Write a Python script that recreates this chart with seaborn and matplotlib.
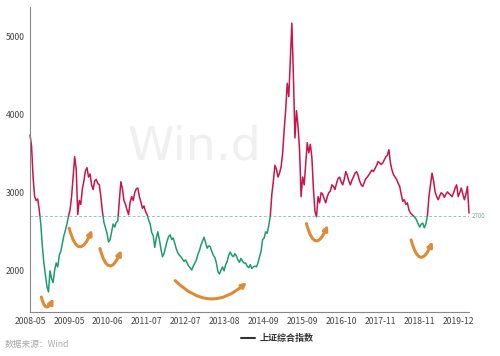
import matplotlib
matplotlib.use("Agg")
import matplotlib.pyplot as plt
from matplotlib.patches import Rectangle, FancyArrowPatch
from matplotlib.lines import Line2D
import seaborn as sns
import numpy as np
import pandas as pd

#%% data (half-month steps, 2008-05 .. 2020-03)

sse_2008_2009 = [3740, 3600, 3200, 2950, 2900, 2920, 2780, 2600, 2320, 2100,
                 1950, 1800, 1730, 2000, 1900, 1850, 2010, 2100, 2050, 2200,
                 2250, 2350, 2450, 2520, 2600, 2700, 2780, 2950, 3200, 3460,
                 3300, 2720, 2900, 2850, 3050, 3150, 3280, 3320, 3200, 3240,
                 3100, 3040, 3150, 3170, 3120, 3100, 2950, 2760, 2620, 2550]
sse_2010_2011 = [2480, 2370, 2400, 2500, 2600, 2560, 2620, 2640, 2900, 3140,
                 3050, 2900, 2850, 2780, 2720, 2880, 2950, 2900, 3000, 3050,
                 3060, 2950, 2880, 2800, 2830, 2760, 2720, 2650, 2600, 2490,
                 2450, 2300, 2420, 2500, 2400, 2280, 2180, 2220, 2300, 2380]
sse_2012_2013 = [2440, 2460, 2400, 2420, 2350, 2280, 2230, 2200, 2180, 2150,
                 2120, 2140, 2100, 2060, 2040, 2010, 2060, 2100, 2140, 2210,
                 2260, 2330, 2380, 2430, 2360, 2290, 2320, 2310, 2250, 2200,
                 2170, 2100, 1990, 1960, 2010, 2050, 2000, 2080, 2120, 2200,
                 2240, 2200, 2180, 2220, 2190, 2140, 2110, 2160, 2120, 2100]
sse_2014_2015 = [2100, 2060, 2040, 2080, 2030, 2050, 2060, 2050, 2100, 2180,
                 2250, 2400, 2420, 2500, 2480, 2580, 2700, 2980, 3150, 3350,
                 3300, 3200, 3250, 3330, 3500, 3800, 4060, 4400, 4230, 4700,
                 5170, 4500, 3700, 4050, 3850, 3550, 2950, 3200, 3100, 3380,
                 3640, 3510, 3620, 3450, 3050, 2760, 2690, 2950, 2870, 3000]
sse_2016_2017 = [2980, 2920, 2870, 2950, 3000, 3020, 3100, 3080, 3040, 3120,
                 3180, 3200, 3140, 3100, 3170, 3270, 3220, 3150, 3100, 3160,
                 3200, 3250, 3270, 3220, 3150, 3100, 3080, 3130, 3180, 3200,
                 3230, 3260, 3290, 3270, 3310, 3350, 3400, 3380, 3360, 3380,
                 3420, 3460, 3480, 3550, 3380, 3290, 3230, 3200, 3170, 3120]
sse_2018_2020 = [3080, 2980, 2890, 2910, 2850, 2870, 2780, 2740, 2720, 2700,
                 2680, 2650, 2600, 2560, 2600, 2610, 2550, 2600, 2700, 2950,
                 3100, 3250, 3150, 3010, 2950, 2910, 2960, 3000, 2980, 2940,
                 2980, 3010, 2990, 2970, 2950, 3000, 3060, 3100, 2950, 3000,
                 3060, 2980, 2910, 2980, 3080, 2740]

sse_values = (sse_2008_2009 + sse_2010_2011 + sse_2012_2013
              + sse_2014_2015 + sse_2016_2017 + sse_2018_2020)

tick_labels = ['2008-05', '2009-05', '2010-06', '2011-07', '2012-07', '2013-08',
               '2014-09', '2015-09', '2016-10', '2017-11', '2018-11', '2019-12']
y_ticks = [2000, 3000, 4000, 5000]
ref_level = 2700

# decorative "smile" arrows: (x_left, x_right, y_top, depth factor)
smile_arrows = [(7, 16, 1700, 1.6), (25, 41, 2580, 1.6), (45, 60, 2320, 1.6),
                (93, 142, 1900, 0.5), (179, 194, 2640, 1.6), (247, 262, 2430, 1.6)]

df = pd.DataFrame({'t': np.arange(len(sse_values)), 'value': sse_values})

#%% plotting

sns.set_style("white")
plt.rcParams['font.family'] = ['Noto Sans CJK SC', 'DejaVu Sans']

red = '#C8154A'
green = '#1E9C6C'

fig = plt.figure(figsize=(5, 3.56), dpi=100)
ax = fig.add_axes([0.06, 0.124, 0.878, 0.856])

# watermark
ax.text(0.375, 0.54, 'Win.d', transform=ax.transAxes, fontsize=34,
        color='#f0f0f0', ha='center', va='center', family='DejaVu Sans', zorder=0)

sns.lineplot(data=df, x='t', y='value', color=red, lw=1.1, ax=ax)
ax.lines[-1].set_clip_path(Rectangle((-50, ref_level), 500, 10000, transform=ax.transData))
sns.lineplot(data=df, x='t', y='value', color=green, lw=1.1, ax=ax)
ax.lines[-1].set_clip_path(Rectangle((-50, 0), 500, ref_level, transform=ax.transData))

ax.axhline(ref_level, color='#9cc4b6', lw=0.7, ls=(0, (3, 2)), zorder=1)
ax.text(len(sse_values) + 1, ref_level, str(ref_level), fontsize=4.5,
        color='#6fae98', va='center', ha='left')

for x0, x1, ytop, f in smile_arrows:
    arr = FancyArrowPatch((x0, ytop), (x1, ytop - 20), transform=ax.transData,
                          connectionstyle='arc3,rad=%s' % f, arrowstyle='-|>',
                          mutation_scale=7, lw=2.2, color='#DE8A36', zorder=3)
    ax.add_patch(arr)

ax.set_xlim(0, len(sse_values) - 1)
ax.set_ylim(1475, 5375)
ax.set_xticks(np.linspace(0, 278, len(tick_labels)))
ax.set_xticklabels(tick_labels)
ax.set_yticks(y_ticks)
ax.set_xlabel('')
ax.set_ylabel('')
ax.tick_params(axis='both', labelsize=6.2, colors='#444444', length=2, width=0.6, pad=2)

for s in ['top', 'right']:
    ax.spines[s].set_visible(False)
for s in ['left', 'bottom']:
    ax.spines[s].set_color('#888888')
    ax.spines[s].set_linewidth(0.8)

handle = Line2D([0], [0], color='#333333', lw=1.5)
fig.legend([handle], ['上证综合指数'], loc='center', bbox_to_anchor=(0.555, 0.048),
           frameon=False, prop={'size': 6.5, 'weight': 'bold'}, handlelength=1.6,
           handletextpad=0.5, labelcolor='#333333')

fig.text(0.01, 0.025, '数据来源：Wind', fontsize=6.3, color='#aaaaaa')

fig.savefig('out.png', dpi=100)
